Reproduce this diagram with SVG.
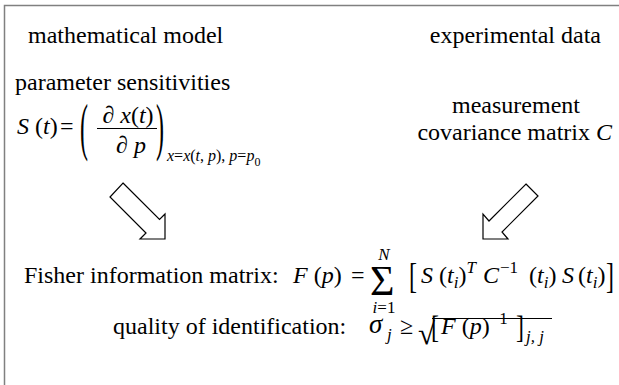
<svg xmlns="http://www.w3.org/2000/svg" width="619" height="385" viewBox="0 0 619 385">
<style>
text{font-family:'Liberation Serif','Times New Roman',serif;font-size:24px;fill:#000}
.i{font-style:italic}
.s{font-size:17px}
.sb{font-size:16px}
.ss{font-size:12px}
.ar{fill:#fff;stroke:#000;stroke-width:1.2;stroke-linejoin:miter}
.frame{fill:none;stroke:#808080;stroke-width:1.5}
</style>
<rect width="619" height="385" fill="#fff"/>
<path class="frame" d="M4.5,390 V5.5 H630"/>

<g id="model">
<text x="28" y="43">mathematical model</text>
</g>
<g id="data">
<text x="601" y="43" text-anchor="end">experimental data</text>
</g>

<g id="sensitivities">
<text x="15" y="90">parameter sensitivities</text>
<text x="17" y="134"><tspan class="i">S</tspan> (<tspan class="i">t</tspan>)</text>
<text x="60" y="134">=</text>
<text transform="translate(80,148) scale(1,2.6)">(</text>
<text x="128" y="123" text-anchor="middle">∂ <tspan class="i">x</tspan>(<tspan class="i">t</tspan>)</text>
<line x1="97" y1="128.5" x2="157" y2="128.5" stroke="#000" stroke-width="1.2"/>
<text x="131" y="153" text-anchor="middle">∂ <tspan class="i">p</tspan></text>
<text transform="translate(156,148) scale(1,2.6)">)</text>
<text class="sb" x="167" y="161"><tspan class="i">x</tspan>=<tspan class="i">x</tspan>(<tspan class="i">t</tspan>, <tspan class="i">p</tspan>), <tspan class="i">p</tspan>=<tspan class="i">p</tspan><tspan class="ss" dy="5">0</tspan></text>
</g>

<g id="covariance">
<text x="516" y="113" text-anchor="middle">measurement</text>
<text x="612" y="140" text-anchor="end">covariance matrix <tspan class="i">C</tspan></text>
</g>

<g id="connectors">
<polygon class="ar" points="123,183 159.5,219.5 165,214 165,239 140,239 146,233 110,197"/>
<polygon class="ar" points="526,184 538,196 502,232 508,239 483,239 483,214 489,221"/>
</g>

<g id="fisher">
<text x="24" y="283">Fisher information matrix:</text>
<text x="293" y="283"><tspan class="i">F</tspan> (<tspan class="i">p</tspan>)</text>
<text x="351" y="283">=</text>
<text x="370" y="295" style="font-size:42px">Σ</text>
<text class="s i" x="384" y="260" text-anchor="middle">N</text>
<text class="s" x="384" y="313" text-anchor="middle"><tspan class="i">i</tspan>=1</text>
<text transform="translate(409,288) scale(1,1.45)">[</text>
<text y="283"><tspan class="i" x="421">S</tspan><tspan x="439">(</tspan><tspan class="i">t</tspan><tspan class="i s" dy="5">i</tspan><tspan dy="-5">)</tspan><tspan class="i s" dy="-10">T</tspan><tspan class="i" x="483" dy="10">C</tspan><tspan class="s" dx="1" dy="-10">−1</tspan><tspan x="529" dy="10">(</tspan><tspan class="i">t</tspan><tspan class="i s" dy="5">i</tspan><tspan dy="-5">)</tspan><tspan class="i" x="562">S</tspan><tspan x="578">(</tspan><tspan class="i">t</tspan><tspan class="i s" dy="5">i</tspan><tspan dy="-5">)</tspan></text>
<text transform="translate(606,288) scale(1,1.45)">]</text>
</g>

<g id="quality">
<text x="113" y="334">quality of identification:</text>
<text class="i" x="369" y="333" style="font-size:27px">σ</text>
<text class="s i" x="387" y="340">j</text>
<text x="400" y="334">≥</text>
<text x="418" y="344" style="font-size:31px">√</text>
<line x1="432" y1="318.5" x2="552" y2="318.5" stroke="#000" stroke-width="1"/>
<text transform="translate(431,338) scale(1,1.3)">[</text>
<text x="441" y="334"><tspan class="i">F</tspan> (<tspan class="i">p</tspan>)<tspan class="s" dy="-10">−1</tspan></text>
<text transform="translate(516,338) scale(1,1.3)">]</text>
<text class="s i" x="526" y="342">j, j</text>
</g>
</svg>
